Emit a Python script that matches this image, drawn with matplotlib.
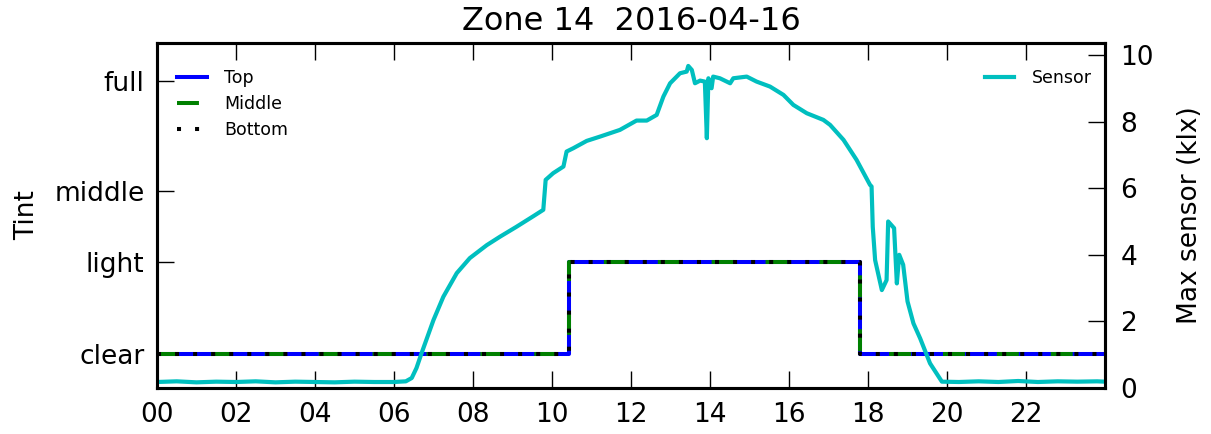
import matplotlib
matplotlib.use("Agg")
import matplotlib.pyplot as plt

# tint schedule (hours, step-post)
tint_names = ["clear", "light", "middle", "full"]
tint_pos = [1.02, 3.78, 5.91, 9.22]
step_hours = [0.0, 10.42, 17.8, 24.0]
step_tint = ["clear", "light", "clear", "clear"]

# max sensor reading (klx)
sensor_hours = [0.0, 0.5, 1.0, 1.5, 2.0, 2.5, 3.0, 3.5, 4.0, 4.5, 5.0, 5.5, 6.0, 6.3,
                6.45, 6.57, 6.70, 7.0, 7.25, 7.59, 7.92, 8.35, 8.68, 9.1, 9.53, 9.78,
                9.84, 10.03, 10.29, 10.37, 10.54, 10.88, 11.22, 11.72, 12.14, 12.4,
                12.65, 12.82, 12.99, 13.24, 13.41, 13.45, 13.54, 13.62, 13.75, 13.87,
                13.92, 13.96, 14.04, 14.08, 14.25, 14.51, 14.59, 14.93, 15.18, 15.52,
                15.86, 16.11, 16.45, 16.87, 17.04, 17.38, 17.71, 18.05, 18.09, 18.12,
                18.18, 18.35, 18.47, 18.51, 18.66, 18.73, 18.79, 18.89, 19.0, 19.15,
                19.32, 19.57, 19.87, 20.3, 20.8, 21.3, 21.8, 22.3, 22.8, 23.3, 23.8, 24.0]
sensor_klx = [0.18, 0.2, 0.17, 0.19, 0.18, 0.2, 0.17, 0.19, 0.18, 0.17, 0.19, 0.18, 0.18, 0.2,
              0.3, 0.6, 1.05, 2.04, 2.74, 3.45, 3.9, 4.29, 4.54, 4.84, 5.16, 5.35,
              6.25, 6.45, 6.65, 7.1, 7.2, 7.42, 7.55, 7.75, 8.03, 8.03,
              8.2, 8.75, 9.15, 9.45, 9.5, 9.67, 9.55, 9.15, 9.23, 9.2,
              7.5, 9.3, 9.0, 9.35, 9.3, 9.15, 9.3, 9.35, 9.2, 9.05,
              8.8, 8.5, 8.25, 8.05, 7.9, 7.45, 6.85, 6.1, 6.05, 4.84,
              3.84, 2.94, 3.24, 5.0, 4.8, 3.14, 4.0, 3.7, 2.6, 1.94,
              1.49, 0.74, 0.19, 0.18, 0.2, 0.18, 0.21, 0.18, 0.2, 0.19, 0.2, 0.19]

plt.rcParams["font.family"] = "DejaVu Sans"
plt.rcParams["font.size"] = 19
plt.rcParams["lines.scale_dashes"] = False

fig = plt.figure(figsize=(12.11, 4.34), dpi=100)
ax = fig.add_axes([0.1296, 0.106, 0.7829, 0.795])
ax2 = ax.twinx()

tint_vals = [tint_pos[tint_names.index(t)] for t in step_tint]
ax.plot(step_hours, tint_vals, drawstyle="steps-post", color="b", lw=2.9, label="Top")
ax.plot(step_hours, tint_vals, drawstyle="steps-post", color="g", lw=2.9,
        dashes=(15.8, 23.0), label="Middle")
ax.plot(step_hours, tint_vals, drawstyle="steps-post", color="k", lw=2.9,
        dashes=(2.9, 10.1), label="Bottom")

ax2.plot(sensor_hours, sensor_klx, color="c", lw=3, label="Sensor")

ax.set_xlim(0, 24)
ax.set_ylim(0, 10.36)
ax2.set_ylim(0, 10.36)
ax.set_xticks(range(0, 24, 2))
ax.set_xticklabels(["%02d" % h for h in range(0, 24, 2)])
ax.set_yticks(tint_pos)
ax.set_yticklabels(tint_names)
ax2.set_yticks(range(0, 11, 2))

ax.tick_params(axis="x", direction="in", top=True, length=12, width=1, pad=10)
ax.tick_params(axis="y", direction="in", length=12, width=1, pad=9)
ax2.tick_params(axis="y", direction="in", length=12, width=1, pad=11)
for a in (ax, ax2):
    for s in a.spines.values():
        s.set_linewidth(2.2)

ax.set_ylabel("Tint", labelpad=10)
ax2.set_ylabel("Max sensor (klx)", labelpad=17)
ax.set_title("Zone 14  2016-04-16", fontsize=23, pad=9)

ax.legend(loc="upper left", bbox_to_anchor=(0.003, 0.974), frameon=False,
          fontsize=12.5, handlelength=1.7, handletextpad=1.0, labelspacing=0.45,
          borderaxespad=0.6)
ax2.legend(loc="upper right", bbox_to_anchor=(1.004, 0.974), frameon=False,
           fontsize=12.5, handlelength=1.7, handletextpad=1.0, borderaxespad=0.6)

fig.savefig("out.png", dpi=100)
